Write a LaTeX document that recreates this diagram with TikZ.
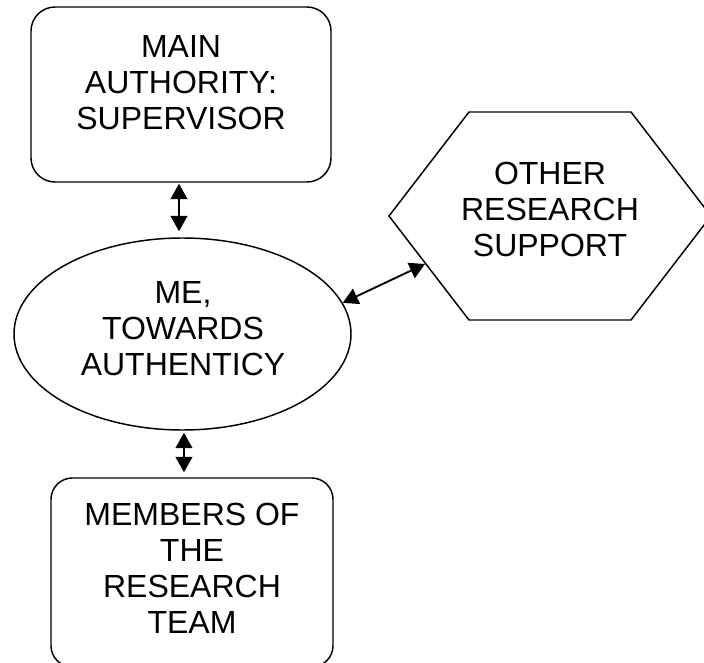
\documentclass[tikz,border=0pt]{standalone}
\usepackage{fontspec}
\setmainfont{Liberation Sans}
\usetikzlibrary{arrows.meta,shapes.geometric}

\tikzset{
  shapeline/.style={draw=black, line width=1.1pt, inner sep=0pt},
  roundbox/.style={shapeline, rectangle, rounded corners=#1},
  oval/.style={shapeline, ellipse},
  label/.style={align=center, inner sep=0pt,
    font=\fontsize{24pt}{27pt}\selectfont},
  link/.style={line width=1.4pt, {Triangle[length=11.5pt,width=12.5pt]}-{Triangle[length=11.5pt,width=12.5pt]}},
}

\begin{document}
\begin{tikzpicture}[x=0.75pt, y=-0.75pt]
  \useasboundingbox (0,0) rectangle (704,663);
  \clip (0,0) rectangle (704,663);

  % supervisor box
  \node[roundbox=18pt, minimum width=225pt, minimum height=131.25pt]
    (sup) at (181,94.5) {};
  \node[label] (suptext) at (181,83) {MAIN\\AUTHORITY:\\SUPERVISOR};

  % central ellipse
  \node[oval, minimum width=252.75pt, minimum height=144pt]
    (me) at (182.5,334) {};
  \node[label] (metext) at (183,329) {ME,\\TOWARDS\\AUTHENTICY};

  % research team box (runs past the lower edge)
  \node[roundbox=16pt, minimum width=211.5pt, minimum height=141.75pt]
    (team) at (192,572.5) {};
  \node[label] (teamtext) at (192,568.5) {MEMBERS OF\\THE\\RESEARCH\\TEAM};

  % other support hexagon
  \draw[line width=1.1pt, line join=miter]
    (389,216) -- (469,112) -- (631,112) -- (711,216) -- (631,320) -- (469,320) -- cycle;
  \node[label] (other) at (550,209) {OTHER\\RESEARCH\\SUPPORT};
  \coordinate (otherport) at (425,264);

  % connectors
  \draw[link, shorten <=0.75pt, shorten >=4.5pt]
    ([xshift=-1.5pt]sup.south) -- ([xshift=-1.5pt]sup.south |- me.north);
  \draw[link, shorten <=1.5pt, shorten >=3.75pt]
    ([xshift=1.1pt]me.south) -- ([xshift=1.1pt]me.south |- team.north);
  \draw[link] (me.11.4) -- (otherport);
\end{tikzpicture}
\end{document}
